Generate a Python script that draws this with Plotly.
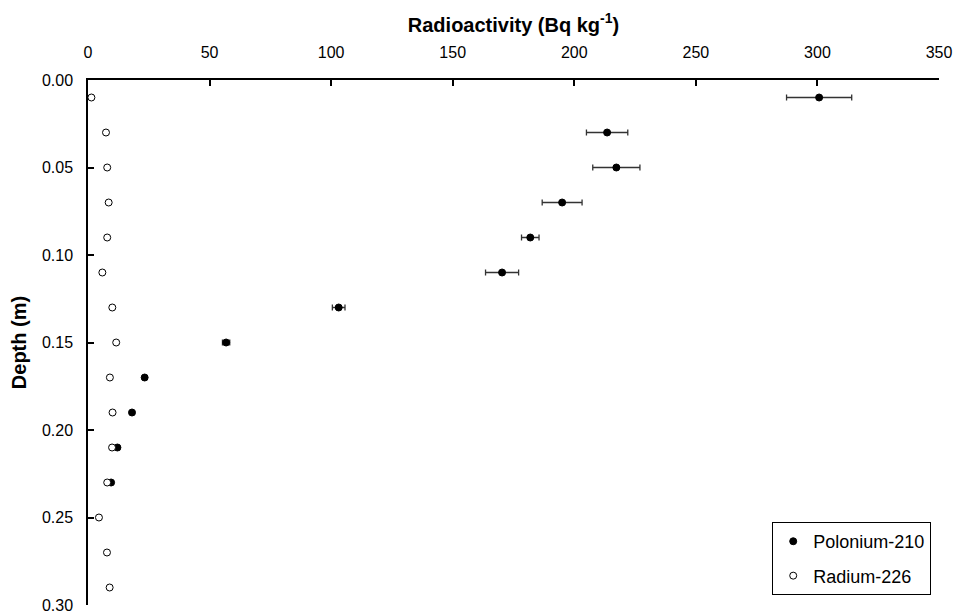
import plotly.graph_objects as go

depth_po = [0.01, 0.03, 0.05, 0.07, 0.09, 0.11, 0.13, 0.15, 0.17, 0.19, 0.21, 0.23]
po210 = [300.7, 213.5, 217.3, 195.0, 181.9, 170.3, 103.1, 56.8, 23.3, 18.1, 12.1, 9.5]
po210_err = [13.4, 8.5, 9.7, 8.2, 3.6, 6.8, 2.6, 1.5, 0.0, 0.0, 0.0, 0.0]

depth_ra = [0.01, 0.03, 0.05, 0.07, 0.09, 0.11, 0.13, 0.15, 0.17, 0.19, 0.21, 0.23, 0.25, 0.27, 0.29]
ra226 = [1.4, 7.4, 7.9, 8.5, 7.9, 5.9, 10.0, 11.6, 9.0, 10.1, 9.9, 7.9, 4.5, 7.8, 8.9]

x_ticks = [0, 50, 100, 150, 200, 250, 300, 350]
y_ticks = [0.00, 0.05, 0.10, 0.15, 0.20, 0.25, 0.30]

FONT = "Liberation Sans, Arial, sans-serif"

fig = go.Figure()
fig.add_trace(go.Scatter(
    x=po210, y=depth_po, mode="markers", name="Polonium-210", legendgroup="po",
    marker=dict(symbol="circle", size=7, color="black", line=dict(color="black", width=1)),
    error_x=dict(type="data", array=po210_err, visible=True, color="#333333", thickness=1.3, width=3),
))
fig.add_trace(go.Scatter(
    x=ra226, y=depth_ra, mode="markers", name="Radium-226", legendgroup="ra",
    marker=dict(symbol="circle", size=7, color="white", line=dict(color="black", width=1)),
))

fig.update_layout(
    width=954, height=615,
    paper_bgcolor="white", plot_bgcolor="white",
    margin=dict(l=88, r=15, t=80, b=10, autoexpand=False),
    font=dict(family=FONT, size=16, color="black"),
    showlegend=True,
    legend=dict(
        x=0.804, y=0.158, xanchor="left", yanchor="top",
        bordercolor="black", borderwidth=1, bgcolor="white",
        font=dict(family=FONT, size=18, color="black"),
        tracegroupgap=8, itemsizing="trace",
    ),
)
fig.update_xaxes(
    side="top", range=[0, 350], tickvals=x_ticks, automargin=False,
    showline=True, linecolor="black", linewidth=1.5, mirror=False,
    ticks="inside", ticklen=6, tickwidth=1.5, tickcolor="black",
    ticklabelstandoff=14,
    showgrid=False, zeroline=False,
    tickfont=dict(family=FONT, size=16, color="black"),
    title=dict(text="<b>Radioactivity (Bq kg<sup>-1</sup>)</b>", font=dict(family=FONT, size=20, color="black"), standoff=6),
)
fig.update_yaxes(
    range=[0.30, 0.0], tickvals=y_ticks, tickformat=".2f", automargin=False,
    showline=True, linecolor="black", linewidth=1.5, mirror=False,
    ticks="inside", ticklen=6, tickwidth=1.5, tickcolor="black",
    ticklabelstandoff=10,
    showgrid=False, zeroline=False,
    tickfont=dict(family=FONT, size=16, color="black"),
    title=dict(text="<b>Depth (m)</b>", font=dict(family=FONT, size=20, color="black"), standoff=10),
)

fig.write_html(
    "out.html",
    config={"displayModeBar": False},
    post_script="document.body.style.margin='0';document.body.style.overflow='hidden';",
)
